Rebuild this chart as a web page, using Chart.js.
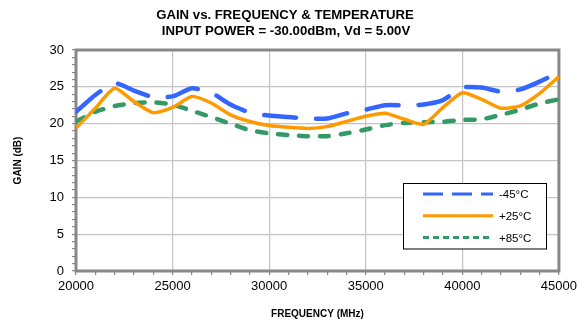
<!DOCTYPE html>
<html>
<head>
<meta charset="utf-8">
<script src="https://cdn.jsdelivr.net/npm/chart.js@4/dist/chart.umd.min.js"></script>
<style>
  html, body { margin: 0; padding: 0; background: #fff; }
  #wrap { width: 581px; height: 327px; position: relative; }
</style>
</head>
<body>
<div id="wrap"><canvas id="myChart" width="581" height="327"></canvas></div>
<script>
// frequency points (MHz)
const frequencies = [20000, 21000, 22000, 23000, 24000, 25000, 26000, 27000, 28000, 29000,
  30000, 31000, 32000, 33000, 34000, 35000, 36000, 37000, 38000, 39000,
  40000, 41000, 42000, 43000, 44000, 45000];

// gain (dB) per temperature
const gainMinus45 = [21.6, 23.9, 25.5, 24.5, 23.6, 23.7, 24.8, 24.2, 22.6, 21.5,
  21.1, 20.9, 20.7, 20.7, 21.4, 21.9, 22.5, 22.5, 22.6, 23.2,
  24.9, 24.9, 24.35, 24.65, 25.7, 27.0];
const gainPlus25 = [19.4, 22.1, 24.8, 23.0, 21.5, 22.2, 23.7, 22.8, 21.2, 20.3,
  19.75, 19.5, 19.35, 19.6, 20.3, 21.0, 21.4, 20.6, 19.9, 22.2,
  24.2, 23.3, 22.1, 22.4, 24.1, 26.4];
const gainPlus85 = [20.3, 21.6, 22.4, 22.8, 22.9, 22.6, 21.75, 20.9, 20.0, 19.1,
  18.7, 18.45, 18.3, 18.3, 18.7, 19.2, 19.8, 20.1, 20.2, 20.25,
  20.5, 20.6, 21.2, 21.9, 22.75, 23.3];

const seriesLabels = ["-45°C", "+25°C", "+85°C"];
const xTickLabels = [20000, 25000, 30000, 35000, 40000, 45000];
const yTickLabels = [0, 5, 10, 15, 20, 25, 30];

const titleLines = ["GAIN vs. FREQUENCY & TEMPERATURE", "INPUT POWER = -30.00dBm, Vd = 5.00V"];

const FONT = "'Liberation Sans', Arial, sans-serif";
const toPoints = (ys) => frequencies.map((f, i) => ({ x: f, y: ys[i] }));

// legend samples (line styles) for the custom legend box
const legendStyles = [
  { color: "#3366ff", width: 3, dash: [20, 9] },
  { color: "#ff9900", width: 3, dash: [] },
  { color: "#339966", width: 3, dash: [6, 4] },
];

const frameAndTitle = {
  id: "frameAndTitle",
  beforeDatasetsDraw(chart) {
    const { ctx, chartArea: a } = chart;
    ctx.save();
    ctx.strokeStyle = "#888888";
    ctx.lineWidth = 3;
    ctx.strokeRect(a.left, a.top, a.right - a.left, a.bottom - a.top);
    ctx.restore();
  },
  afterDraw(chart) {
    const { ctx } = chart;
    ctx.save();
    // title
    ctx.fillStyle = "#000";
    ctx.font = "bold 13.2px " + FONT;
    ctx.textAlign = "center";
    ctx.textBaseline = "middle";
    ctx.fillText(titleLines[0], 285, 15);
    ctx.fillText(titleLines[1], 286, 31.5);

    // legend box
    const bx = 403.5, by = 183.5, bw = 143, bh = 65.5;
    ctx.fillStyle = "#fff";
    ctx.fillRect(bx, by, bw, bh);
    ctx.strokeStyle = "#000";
    ctx.lineWidth = 1;
    ctx.strokeRect(bx, by, bw, bh);
    ctx.font = "11.5px " + FONT;
    ctx.textAlign = "left";
    seriesLabels.forEach((lbl, i) => {
      const y = 194 + i * 21.7;
      const s = legendStyles[i];
      ctx.strokeStyle = s.color;
      ctx.lineWidth = s.width;
      ctx.setLineDash(s.dash);
      ctx.beginPath();
      ctx.moveTo(423, y);
      ctx.lineTo(493, y);
      ctx.stroke();
      ctx.setLineDash([]);
      ctx.fillStyle = "#000";
      ctx.fillText(lbl, 499, y + 1);
    });
    ctx.restore();
  },
};

const ctx = document.getElementById("myChart").getContext("2d");
const myChart = new Chart(ctx, {
  type: "line",
  data: {
    datasets: [
      {
        label: seriesLabels[0],
        data: toPoints(gainMinus45),
        borderColor: "#3366ff",
        borderWidth: 4.5,
        borderDash: [32, 20],
        borderCapStyle: "round",
        pointRadius: 0,
        tension: 0.2,
        fill: false,
      },
      {
        label: seriesLabels[1],
        data: toPoints(gainPlus25),
        borderColor: "#ff9900",
        borderWidth: 3.5,
        pointRadius: 0,
        tension: 0.2,
        fill: false,
      },
      {
        label: seriesLabels[2],
        data: toPoints(gainPlus85),
        borderColor: "#339966",
        borderWidth: 4.5,
        borderDash: [9, 12],
        borderCapStyle: "round",
        pointRadius: 0,
        tension: 0.2,
        fill: false,
      },
    ],
  },
  options: {
    responsive: false,
    animation: false,
    layout: { padding: { top: 50, right: 18, left: 0, bottom: 0 } },
    plugins: {
      legend: { display: false },
      title: { display: false },
      tooltip: { enabled: false },
    },
    scales: {
      x: {
        type: "linear",
        min: 20000,
        max: 45000,
        afterFit: (scale) => { scale.height = 56; },
        ticks: {
          stepSize: 1000,
          autoSkip: false,
          maxRotation: 0,
          color: "#000",
          padding: 4,
          font: { family: FONT, size: 13 },
          callback: (v) => (xTickLabels.includes(v) ? String(v) : ""),
        },
        grid: {
          color: (c) => (c.tick && xTickLabels.includes(c.tick.value) ? "#c4c4c4" : "transparent"),
          tickColor: "#888888",
          tickLength: 4,
          lineWidth: 1.2,
        },
        border: { display: false },
        title: {
          display: true,
          text: "FREQUENCY (MHz)",
          color: "#000",
          font: { family: FONT, size: 10, weight: "bold" },
          padding: { top: 8, bottom: 7 },
        },
      },
      y: {
        min: 0,
        max: 30,
        afterFit: (scale) => { scale.width = 76; },
        ticks: {
          stepSize: 1,
          autoSkip: false,
          color: "#000",
          padding: 8,
          font: { family: FONT, size: 13 },
          callback: (v) => (yTickLabels.includes(v) ? String(v) : ""),
        },
        grid: {
          color: (c) => (c.tick && yTickLabels.includes(c.tick.value) ? "#c4c4c4" : "transparent"),
          tickColor: "#888888",
          tickLength: 4,
          lineWidth: 1.2,
        },
        border: { display: false },
        title: {
          display: true,
          text: "GAIN (dB)",
          color: "#000",
          font: { family: FONT, size: 10, weight: "bold" },
          padding: { top: 12, bottom: 4 },
        },
      },
    },
  },
  plugins: [frameAndTitle],
});
</script>
</body>
</html>
